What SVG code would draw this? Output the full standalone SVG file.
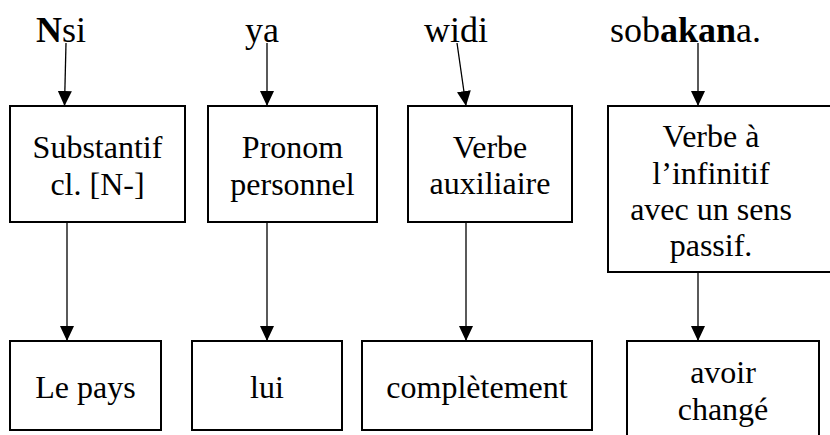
<svg xmlns="http://www.w3.org/2000/svg" width="830" height="435" viewBox="0 0 830 435" font-family="'Liberation Serif', 'Times New Roman', serif">
<style>
.box{fill:#fff;stroke:#000;stroke-width:2}
text{font-family:'Liberation Serif','Times New Roman',serif;fill:#000}
.t{font-size:32px;text-anchor:middle}
.w{font-size:36px}
.b{font-weight:bold}
.c{stroke:#000;stroke-width:1.3;fill:none;marker-end:url(#ah)}
</style>
<defs>
<marker id="ah" markerUnits="userSpaceOnUse" markerWidth="15" markerHeight="14" refX="15" refY="7" orient="auto">
<path d="M0,0 L15,7 L0,14 z" fill="#000"/>
</marker>
</defs>
<rect width="830" height="435" fill="#fff"/>
<g id="words" font-family="'Liberation Serif', 'Times New Roman', serif">
<text class="w" x="36" y="42" font-family="'Liberation Serif', serif"><tspan class="b">N</tspan>si</text>
<text class="w" x="245" y="42" font-family="'Liberation Serif', serif">ya</text>
<text class="w" x="424" y="42" font-family="'Liberation Serif', serif">widi</text>
<text class="w" x="610" y="42" font-family="'Liberation Serif', serif">sob<tspan class="b">akan</tspan>a.</text>
</g>
<g id="connectors">
<line class="c" x1="66" y1="43" x2="64.5" y2="106"/>
<line class="c" x1="267" y1="43" x2="267" y2="106"/>
<line class="c" x1="457" y1="43" x2="466" y2="106"/>
<line class="c" x1="698" y1="43" x2="698" y2="106"/>
<line class="c" x1="67" y1="222" x2="67" y2="341"/>
<line class="c" x1="267" y1="222" x2="267" y2="341"/>
<line class="c" x1="466" y1="222" x2="466" y2="341"/>
<line class="c" x1="698" y1="272" x2="698" y2="341"/>
</g>
<g id="n-substantif">
<rect class="box" x="10" y="106" width="175" height="116"/>
<text class="t" x="97.5" y="158">Substantif</text>
<text class="t" x="97.5" y="195">cl. [N-]</text>
</g>
<g id="n-pronom">
<rect class="box" x="208" y="106" width="169" height="116"/>
<text class="t" x="292.5" y="158">Pronom</text>
<text class="t" x="292.5" y="195">personnel</text>
</g>
<g id="n-verbe-aux">
<rect class="box" x="408" y="106" width="164" height="116"/>
<text class="t" x="490" y="158">Verbe</text>
<text class="t" x="490" y="194">auxiliaire</text>
</g>
<g id="n-verbe-inf">
<rect class="box" x="608" y="106" width="240" height="166"/>
<text class="t" x="711" y="147">Verbe à</text>
<text class="t" x="711" y="184">l’infinitif</text>
<text class="t" x="711" y="220">avec un sens</text>
<text class="t" x="711" y="256">passif.</text>
</g>
<g id="n-le-pays">
<rect class="box" x="10" y="341" width="151" height="89"/>
<text class="t" x="85.5" y="398">Le pays</text>
</g>
<g id="n-lui">
<rect class="box" x="192" y="341" width="150" height="89"/>
<text class="t" x="267" y="398">lui</text>
</g>
<g id="n-completement">
<rect class="box" x="362" y="341" width="230" height="89"/>
<text class="t" x="477" y="398">complètement</text>
</g>
<g id="n-avoir-change">
<rect class="box" x="627" y="341" width="192" height="110"/>
<text class="t" x="723" y="383">avoir</text>
<text class="t" x="723" y="420">changé</text>
</g>
</svg>
